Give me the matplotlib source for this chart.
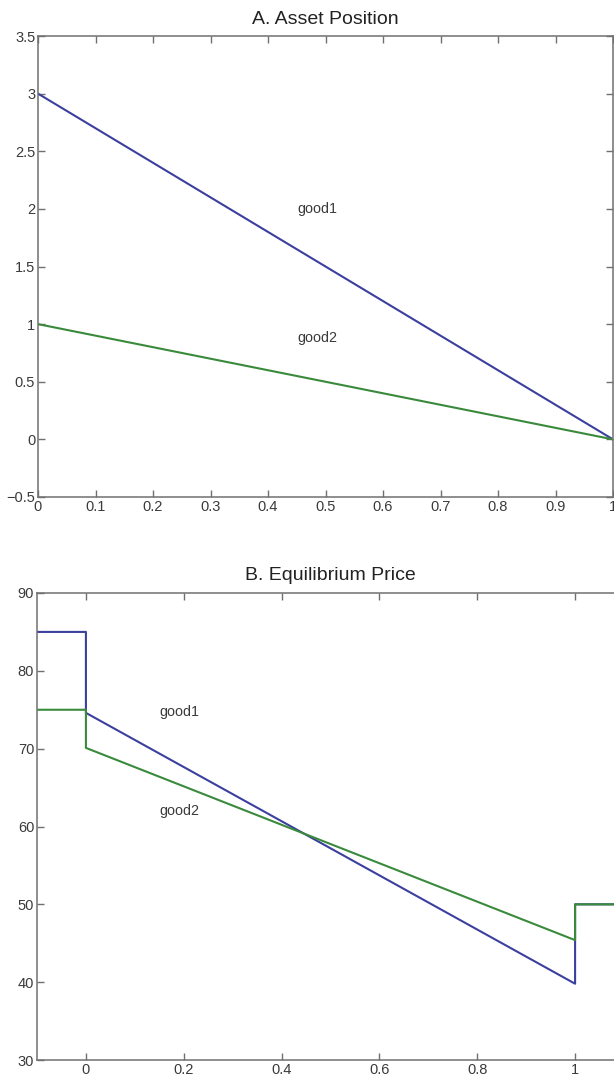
import matplotlib
matplotlib.use("Agg")
import matplotlib.pyplot as plt
import numpy as np

plt.rcParams['font.family'] = ['Liberation Sans', 'DejaVu Sans']

# Panel A data
a_x = [0, 1]
a_good1 = [3, 0]
a_good2 = [1, 0]

# Panel B data (step profile)
b_x = [-0.1, 0, 0, 1, 1, 1.1]
b_good1 = [85, 85, 74.6, 39.8, 50, 50]
b_good2 = [75, 75, 70.1, 45.4, 50, 50]

a_xticks = [0, 0.1, 0.2, 0.3, 0.4, 0.5, 0.6, 0.7, 0.8, 0.9, 1]
a_xticklabels = ['0', '0.1', '0.2', '0.3', '0.4', '0.5', '0.6', '0.7', '0.8', '0.9', '1']
a_yticks = [-0.5, 0, 0.5, 1, 1.5, 2, 2.5, 3, 3.5]
a_yticklabels = ['\u22120.5', '0', '0.5', '1', '1.5', '2', '2.5', '3', '3.5']
b_xticks = [0, 0.2, 0.4, 0.6, 0.8, 1]
b_xticklabels = ['0', '0.2', '0.4', '0.6', '0.8', '1']
b_yticks = [30, 40, 50, 60, 70, 80, 90]

BLUE = '#3b3f9e'
GREEN = '#3a8a3c'
SPINE = '#707070'
TXT = '#3a3a3a'

fig = plt.figure(figsize=(6.14, 10.86), dpi=100)
W, H = 614, 1086

def pos(l, r, t, b):
    return [l / W, 1 - b / H, (r - l) / W, (b - t) / H]

def style(ax):
    for s in ax.spines.values():
        s.set_color(SPINE)
        s.set_linewidth(1.1)
    ax.tick_params(direction='in', length=5, width=1, color=SPINE,
                   top=True, right=True, labelsize=10.5, labelcolor=TXT, pad=2)

ax1 = fig.add_axes(pos(38, 613, 36, 497))
ax1.plot(a_x, a_good1, color=BLUE, lw=1.5)
ax1.plot(a_x, a_good2, color=GREEN, lw=1.5)
ax1.set_xlim(0, 1)
ax1.set_ylim(-0.5, 3.5)
ax1.set_xticks(a_xticks)
ax1.set_xticklabels(a_xticklabels)
ax1.set_yticks(a_yticks)
ax1.set_yticklabels(a_yticklabels)
ax1.text(0.451, 2.0, 'good1', fontsize=10.3, color=TXT, va='center')
ax1.text(0.451, 0.88, 'good2', fontsize=10.3, color=TXT, va='center')
ax1.set_title('A. Asset Position', fontsize=14, color='#222222', pad=9)
style(ax1)

ax2 = fig.add_axes(pos(37, 624, 593, 1060))
ax2.plot(b_x, b_good1, color=BLUE, lw=1.5)
ax2.plot(b_x, b_good2, color=GREEN, lw=1.5)
ax2.set_xlim(-0.1, 1.1)
ax2.set_ylim(30, 90)
ax2.set_xticks(b_xticks)
ax2.set_xticklabels(b_xticklabels)
ax2.set_yticks(b_yticks)
ax2.text(0.15, 74.7, 'good1', fontsize=10.3, color=TXT, va='center')
ax2.text(0.15, 62.0, 'good2', fontsize=10.3, color=TXT, va='center')
ax2.set_title('B. Equilibrium Price', fontsize=14, color='#222222', pad=9)
style(ax2)

fig.savefig('out.png', dpi=100)
